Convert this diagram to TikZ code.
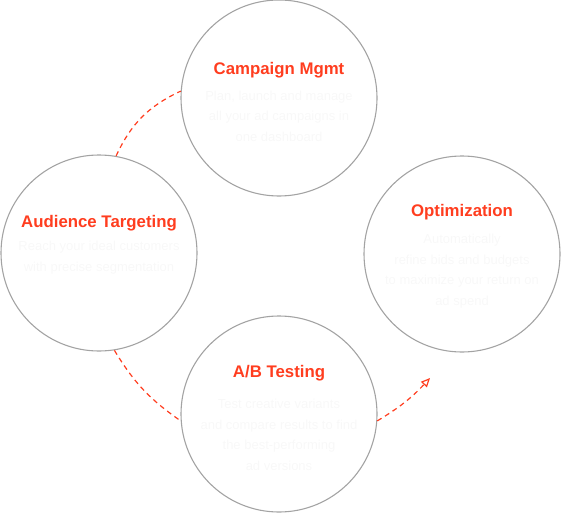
\documentclass[tikz,border=0pt]{standalone}
\usepackage{fontspec}
\setmainfont{Liberation Sans}
\usetikzlibrary{arrows.meta}
\definecolor{accent}{HTML}{FF3D1F}
\definecolor{ring}{HTML}{A3A3A3}
\definecolor{faint}{HTML}{F8F8F8}
\tikzset{
  stage/.style={circle, draw=ring, line width=1.1pt, minimum size=196pt, inner sep=0pt},
  title/.style={text=accent, font=\fontsize{16.8}{19}\selectfont\bfseries},
  desc/.style={text=faint, align=center, font=\fontsize{13}{20.5}\selectfont},
  flow/.style={draw=accent, line width=1.2pt, dash pattern=on 5pt off 4pt}
}
\begin{document}
\begin{tikzpicture}[x=1pt,y=-1pt]
\useasboundingbox (0,0) rectangle (561,513);
\node[stage] (C) at (279,98) {};
\node[stage] (A) at (99,253) {};
\node[stage] (O) at (462,254) {};
\node[stage] (B) at (279,414) {};
\node[title] (Ct) at (279,70) {Campaign Mgmt};
\node[title] (At) at (99,223) {Audience Targeting};
\node[title] (Ot) at (462,212) {Optimization};
\node[title] (Bt) at (279,373) {A/B Testing};
\node[desc] (Cd) at (279,116) {Plan, launch and manage\\all your ad campaigns in\\one dashboard};
\node[desc] (Ad) at (99,257.5) {Reach your ideal customers\\with precise segmentation};
\node[desc] (Od) at (462,271) {Automatically\\refine bids and budgets\\to maximize your return on\\ad spend};
\node[desc] (Bd) at (279,435) {Test creative variants\\and compare results to find\\the best-performing\\ad versions};
\coordinate (E) at (430,378);
\draw[flow] (A.80) to[bend left=20] (C.176);
\draw[flow] (A.279) to[bend right=12] (B.184);
\draw[flow, -{Triangle[open, length=9pt, width=8pt]}] (B.-4) to[bend right=8] (E);
\end{tikzpicture}
\end{document}
